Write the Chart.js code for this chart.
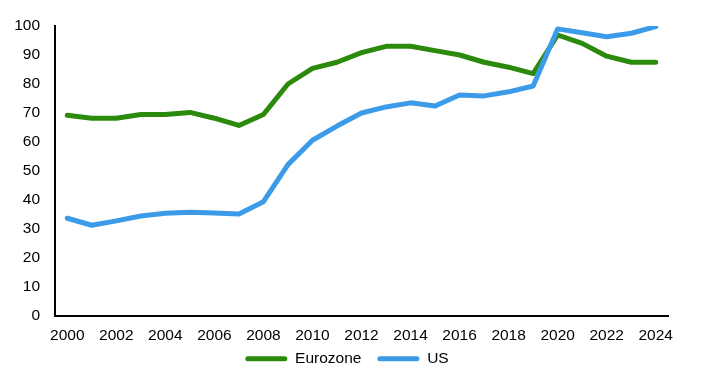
<!DOCTYPE html>
<html>
<head>
<meta charset="utf-8">
<script src="https://cdn.jsdelivr.net/npm/chart.js@4"></script>
<style>
html,body{margin:0;padding:0;background:#fff;}
#wrap{width:713px;height:378px;position:relative;}
</style>
</head>
<body>
<div id="wrap"><canvas id="c"></canvas></div>
<script>
const years = ['2000','2001','2002','2003','2004','2005','2006','2007','2008','2009','2010','2011','2012','2013','2014','2015','2016','2017','2018','2019','2020','2021','2022','2023','2024'];
const eurozone = [69.2,68.2,68.2,69.5,69.5,70.2,68.2,65.7,69.5,80.0,85.4,87.5,90.8,93.0,93.0,91.5,90.0,87.5,85.8,83.6,96.9,94.0,89.6,87.5,87.5];
const us = [33.7,31.3,32.8,34.5,35.4,35.8,35.5,35.2,39.4,52.2,60.6,65.5,70.0,72.1,73.5,72.4,76.2,75.9,77.3,79.3,99.0,97.7,96.3,97.5,99.8];
const seriesNames = ['Eurozone','US'];
const yTicks = [0,10,20,30,40,50,60,70,80,90,100];

const FONT = {family:'"Liberation Sans", Arial, sans-serif', size:15.5};
const shiftLegend = {
  id:'shiftLegend',
  afterLayout(chart){
    const lg = chart.legend;
    if (!lg) return;
    const dx = 13, dy = -12;
    lg.left += dx; lg.right += dx;
    lg.top += dy; lg.bottom += dy;
  }
};
new Chart(document.getElementById('c'), {
  type:'line',
  data:{
    labels: years,
    datasets:[
      {label:seriesNames[0], data:eurozone, borderColor:'#2B8A0B', backgroundColor:'#2B8A0B', borderWidth:5, pointRadius:0, tension:0, borderCapStyle:'round', borderJoinStyle:'round', order:1},
      {label:seriesNames[1], data:us, borderColor:'#3C9BE9', backgroundColor:'#3C9BE9', borderWidth:5, pointRadius:0, tension:0, borderCapStyle:'round', borderJoinStyle:'round', order:0}
    ]
  },
  plugins:[shiftLegend],
  options:{
    responsive:true, maintainAspectRatio:false, animation:false,
    layout:{padding:{left:0,right:45,top:26,bottom:-10.5}},
    plugins:{
      tooltip:{enabled:false},
      legend:{
        position:'bottom',
        labels:{
          color:'#000', font:FONT, boxWidth:42, boxHeight:5, padding:16,
          useBorderRadius:true, borderRadius:2.5,
          sort:(a,b)=>a.datasetIndex-b.datasetIndex,
          generateLabels:(chart)=>chart.data.datasets.map((ds,i)=>({text:ds.label, fillStyle:ds.borderColor, strokeStyle:ds.borderColor, lineWidth:0, borderRadius:2.5, datasetIndex:i, fontColor:'#000'}))
        }
      }
    },
    scales:{
      x:{
        offset:true,
        afterFit:(s)=>{s.height=31;},
        grid:{display:false, drawTicks:false},
        border:{display:true, color:'#000', width:2},
        ticks:{color:'#000', font:FONT, autoSkip:false, maxRotation:0, padding:10,
          callback:function(v,i){ return i%2===0 ? years[i] : ''; }}
      },
      y:{
        min:0, max:100,
        afterFit:(s)=>{s.width=55;},
        afterBuildTicks:(s)=>{s.ticks=yTicks.map(v=>({value:v}));},
        grid:{display:false, drawTicks:false},
        border:{display:true, color:'#000', width:2},
        ticks:{color:'#000', font:FONT, padding:15}
      }
    }
  }
});
</script>
</body>
</html>
